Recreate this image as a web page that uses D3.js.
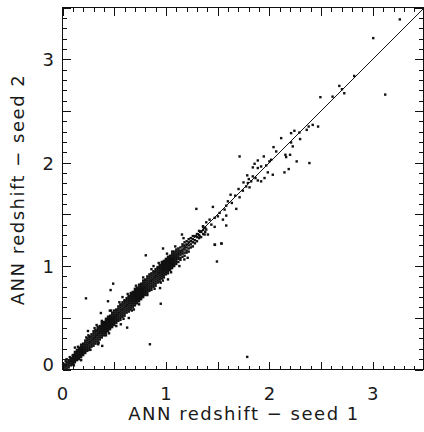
<!DOCTYPE html>
<html>
<head>
<meta charset="utf-8">
<script src="https://cdn.jsdelivr.net/npm/d3@7"></script>
<style>
  body { margin: 0; background: #fff; }
  text { font-family: "DejaVu Sans", sans-serif; fill: #1a1a1a; }
</style>
</head>
<body>
<svg id="chart" width="424" height="432"></svg>
<script>
// tick labels
var xTickLabels = [0, 1, 2, 3];
var yTickLabels = [0, 1, 2, 3];
var xTitle = 'ANN redshift \u2212 seed 1';
var yTitle = 'ANN redshift \u2212 seed 2';

// dense core: each row is [seed 1, then the seed 2 values read in that column]
var bandRows = [
  [0.02, 0.00,0.02,0.04,0.05],
  [0.04, 0.01,0.03,0.05,0.07],
  [0.06, 0.02,0.04,0.06,0.08,0.09],
  [0.08, 0.04,0.06,0.08,0.10,0.11],
  [0.10, 0.05,0.07,0.09,0.11,0.13,0.14],
  [0.12, 0.07,0.09,0.11,0.13,0.15,0.17],
  [0.14, 0.09,0.11,0.13,0.15,0.17,0.19],
  [0.16, 0.10,0.12,0.14,0.16,0.18,0.20,0.21],
  [0.18, 0.12,0.14,0.16,0.18,0.20,0.22,0.24],
  [0.20, 0.14,0.16,0.18,0.20,0.22,0.24,0.25],
  [0.22, 0.16,0.18,0.20,0.22,0.24,0.26,0.28],
  [0.24, 0.18,0.20,0.22,0.24,0.26,0.28,0.30],
  [0.26, 0.19,0.21,0.23,0.25,0.27,0.29,0.31,0.32],
  [0.28, 0.22,0.24,0.26,0.28,0.30,0.32,0.34],
  [0.30, 0.23,0.25,0.27,0.29,0.31,0.33,0.35,0.37],
  [0.32, 0.25,0.27,0.29,0.31,0.33,0.35,0.37,0.38],
  [0.34, 0.27,0.29,0.31,0.33,0.35,0.37,0.39,0.41],
  [0.36, 0.29,0.31,0.33,0.35,0.37,0.39,0.41,0.42],
  [0.38, 0.31,0.33,0.35,0.37,0.39,0.41,0.43,0.45],
  [0.40, 0.33,0.35,0.37,0.39,0.41,0.43,0.45,0.46],
  [0.42, 0.35,0.37,0.39,0.41,0.43,0.45,0.47,0.49],
  [0.44, 0.37,0.39,0.41,0.43,0.45,0.47,0.49,0.51],
  [0.46, 0.39,0.41,0.43,0.45,0.47,0.49,0.51,0.52],
  [0.48, 0.41,0.43,0.45,0.47,0.49,0.51,0.53,0.55],
  [0.50, 0.43,0.45,0.47,0.49,0.51,0.53,0.55,0.57],
  [0.52, 0.45,0.47,0.49,0.51,0.53,0.55,0.57,0.58],
  [0.54, 0.47,0.49,0.51,0.53,0.55,0.57,0.59,0.61],
  [0.56, 0.48,0.50,0.52,0.54,0.56,0.58,0.60,0.62,0.63],
  [0.58, 0.51,0.53,0.55,0.57,0.59,0.61,0.63,0.65],
  [0.60, 0.52,0.54,0.56,0.58,0.60,0.62,0.64,0.66,0.67],
  [0.62, 0.55,0.57,0.59,0.61,0.63,0.65,0.67,0.69],
  [0.64, 0.56,0.58,0.60,0.62,0.64,0.66,0.68,0.70,0.71],
  [0.66, 0.58,0.60,0.62,0.64,0.66,0.68,0.70,0.72,0.74],
  [0.68, 0.60,0.62,0.64,0.66,0.68,0.70,0.72,0.74,0.75],
  [0.70, 0.62,0.64,0.66,0.68,0.70,0.72,0.74,0.76,0.78],
  [0.72, 0.64,0.66,0.68,0.70,0.72,0.74,0.76,0.78,0.79],
  [0.74, 0.66,0.68,0.70,0.72,0.74,0.76,0.78,0.80,0.82],
  [0.76, 0.68,0.70,0.72,0.74,0.76,0.78,0.80,0.82,0.83],
  [0.78, 0.70,0.72,0.74,0.76,0.78,0.80,0.82,0.84,0.86],
  [0.80, 0.72,0.74,0.76,0.78,0.80,0.82,0.84,0.86,0.87],
  [0.82, 0.74,0.76,0.78,0.80,0.82,0.84,0.86,0.88,0.90],
  [0.84, 0.76,0.78,0.80,0.82,0.84,0.86,0.88,0.90,0.92],
  [0.86, 0.77,0.79,0.81,0.83,0.85,0.87,0.89,0.91,0.93],
  [0.88, 0.80,0.82,0.84,0.86,0.88,0.90,0.92,0.94,0.95],
  [0.90, 0.81,0.83,0.85,0.87,0.89,0.91,0.93,0.95,0.97],
  [0.92, 0.84,0.86,0.88,0.90,0.92,0.94,0.96,0.98,0.99],
  [0.94, 0.85,0.87,0.89,0.91,0.93,0.95,0.97,0.99,1.01],
  [0.96, 0.88,0.90,0.92,0.94,0.96,0.98,1.00,1.02,1.04],
  [0.98, 0.89,0.91,0.93,0.95,0.97,0.99,1.01,1.03,1.05],
  [1.00, 0.92,0.94,0.96,0.98,1.00,1.02,1.04,1.06,1.07],
  [1.02, 0.93,0.95,0.97,0.99,1.01,1.03,1.05,1.07,1.09],
  [1.04, 0.96,0.98,1.00,1.02,1.04,1.06,1.08,1.10],
  [1.06, 0.98,1.00,1.02,1.04,1.06,1.08,1.10,1.12,1.14],
  [1.08, 1.00,1.02,1.04,1.06,1.08,1.10,1.12,1.14],
  [1.10, 1.02,1.04,1.06,1.08,1.10,1.12,1.14,1.16],
  [1.12, 1.04,1.07,1.09,1.11,1.13,1.15,1.17],
  [1.14, 1.06,1.08,1.11,1.13,1.15,1.18],
  [1.16, 1.09,1.12,1.14,1.16,1.19,1.21],
  [1.18, 1.10,1.13,1.16,1.18,1.20,1.23],
  [1.20, 1.13,1.15,1.18,1.21,1.24],
  [1.22, 1.14,1.17,1.20,1.23,1.26],
  [1.24, 1.18,1.21,1.24,1.27],
  [1.26, 1.19,1.23,1.26,1.29],
  [1.28, 1.22,1.25,1.29],
  [1.30, 1.24,1.28,1.31],
  [1.32, 1.27,1.30,1.34],
  [1.34, 1.28,1.33],
  [1.36, 1.31,1.35,1.38],
  [1.38, 1.33,1.37]
];

// ragged edge of the core, [seed 1, seed 2]
var edgePairs = [
  [0.15,0.22],[0.18,0.09],[0.23,0.31],[0.27,0.19],[0.31,0.40],[0.35,0.26],[0.38,0.47],[0.42,0.33],
  [0.47,0.57],[0.52,0.42],[0.55,0.65],[0.59,0.49],[0.63,0.73],[0.67,0.57],[0.71,0.81],[0.74,0.63],
  [0.78,0.89],[0.82,0.72],[0.86,0.97],[0.89,0.78],[0.93,1.03],[0.97,0.86],[1.01,1.12],[1.05,0.94],
  [1.09,1.19],[1.13,1.00],[1.17,1.27],[1.21,1.08],[0.58,0.70],[0.33,0.43],[0.69,0.58],[0.25,0.33],
  [0.45,0.35],[0.88,1.00],[0.95,0.84],[0.07,0.12],[0.11,0.04],[0.03,0.08]
];

// thinner tail between 1.3 and 2.5
var tailPairs = [
  [1.326,1.288],[1.342,1.337],[1.358,1.385],[1.374,1.305],[1.39,1.353],[1.406,1.305],[1.39,1.423],
  [1.422,1.449],[1.439,1.401],[1.454,1.572],[1.471,1.379],[1.471,1.466],[1.471,1.208],[1.502,1.481],
  [1.519,1.514],[1.535,1.218],[1.551,1.449],[1.567,1.546],[1.583,1.584],[1.583,1.488],[1.583,1.392],
  [1.599,1.626],[1.625,1.69],[1.637,1.61],[1.67,1.681],[1.68,1.553],[1.702,1.745],[1.712,1.665],
  [1.744,1.729],[1.75,1.809],[1.776,1.77],[1.786,1.877],[1.792,1.803],[1.801,1.841],[1.808,1.761],
  [1.824,1.819],[1.84,1.954],[1.84,1.867],[1.857,1.989],[1.866,1.851],[1.888,2.021],[1.888,1.948],
  [1.888,1.828],[1.92,1.963],[1.92,1.819],[1.953,1.851],[1.969,1.973],[1.985,1.906],[2.0,2.012],
  [2.017,2.028],[2.033,1.883],[2.04,2.15],[2.066,2.108],[2.146,1.906],[2.155,2.076],[2.162,2.054],
  [2.187,1.938],[2.2,2.076],[2.264,2.012],[2.387,1.996],[1.712,2.06],[1.946,2.06],
  [2.114,2.237],[2.21,2.195],[2.226,2.157],[2.21,2.285],[2.242,2.308],[2.29,2.291],[2.297,2.228],
  [2.361,2.317],[2.38,2.349],[2.419,2.365],[2.471,2.349]
];

// sparse high-redshift objects
var highPairs = [
  [2.493,2.633],[2.611,2.638],[2.676,2.742],[2.702,2.71],[2.724,2.671],[2.82,2.838],
  [3.12,2.658],[3.004,3.204],[3.261,3.385]
];

// scattered points off the relation
var outlierPairs = [
  [0.04,0.10],[0.104,0.05],[0.12,0.212],[0.227,0.688],[0.246,0.372],[0.345,0.244],[0.384,0.228],
  [0.371,0.546],[0.44,0.66],[0.458,0.569],[0.465,0.768],[0.49,0.83],[0.564,0.437],[0.625,0.405],
  [0.641,0.498],[0.805,1.104],[0.845,0.244],[0.95,0.636],[0.943,0.787],[0.972,1.17],[1.02,0.871],
  [1.155,1.305],[1.178,1.064],[1.294,1.553],[1.474,1.205],[1.538,1.218],[1.493,1.044],[1.786,0.122]
];

var svg = d3.select('#chart');
var x = d3.scaleLinear().domain([0, 3.49]).range([62.5, 423.5]);
var y = d3.scaleLinear().domain([0, 3.5]).range([369.5, 7.5]);

var x0 = x.range()[0], x1 = x.range()[1];
var y0 = y.range()[0], y1 = y.range()[1];

svg.append('clipPath').attr('id', 'plotclip')
    .append('rect')
    .attr('x', x0).attr('y', y1)
    .attr('width', x1 - x0).attr('height', y0 - y1);

var plot = svg.append('g').attr('clip-path', 'url(#plotclip)');

// one-to-one line
plot.append('line')
    .attr('x1', x(0)).attr('y1', y(0))
    .attr('x2', x(3.5)).attr('y2', y(3.5))
    .attr('stroke', '#111')
    .attr('stroke-width', 1);

var bandPairs = [];
bandRows.forEach(function (row) {
    row.slice(1).forEach(function (v) { bandPairs.push([row[0], v]); });
});

// dots are a touch over 2px so the packed core closes up
var dot = 2.4;
var allPairs = bandPairs.concat(edgePairs, tailPairs, highPairs, outlierPairs);
plot.selectAll('rect.pt')
    .data(allPairs)
    .enter().append('rect')
    .attr('class', 'pt')
    .attr('x', function (d) { return x(d[0]) - dot / 2; })
    .attr('y', function (d) { return y(d[1]) - dot / 2; })
    .attr('width', dot)
    .attr('height', dot)
    .attr('fill', '#111');

// frame with ticks on all four sides (minor every 0.1, major every 0.5)
var majorLen = 8, minorLen = 4;
var xTicks = d3.range(0, 35).map(function (i) { return i / 10; });
var yTicks = d3.range(0, 36).map(function (i) { return i / 10; });
var isMajor = function (v) { return Math.abs(v * 2 - Math.round(v * 2)) < 1e-6; };

var axes = svg.append('g')
    .attr('stroke', '#111')
    .attr('stroke-width', 1)
    .attr('shape-rendering', 'crispEdges');

axes.append('rect')
    .attr('x', x0).attr('y', y1)
    .attr('width', x1 - x0 - 0.5).attr('height', y0 - y1)
    .attr('fill', 'none');

xTicks.forEach(function (v) {
    var len = isMajor(v) ? majorLen : minorLen;
    var px = Math.round(x(v)) + 0.5;
    axes.append('line').attr('x1', px).attr('x2', px).attr('y1', y0).attr('y2', y0 - len);
    axes.append('line').attr('x1', px).attr('x2', px).attr('y1', y1).attr('y2', y1 + len);
});

yTicks.forEach(function (v) {
    var len = isMajor(v) ? majorLen : minorLen;
    var py = Math.round(y(v)) + 0.5;
    axes.append('line').attr('x1', x0).attr('x2', x0 + len).attr('y1', py).attr('y2', py);
    axes.append('line').attr('x1', x1 - 0.5).attr('x2', x1 - 0.5 - len).attr('y1', py).attr('y2', py);
});

// tick labels
svg.selectAll('text.xl')
    .data(xTickLabels)
    .enter().append('text')
    .attr('class', 'xl')
    .attr('x', function (d) { return x(d); })
    .attr('y', 400)
    .attr('text-anchor', 'middle')
    .style('font-size', '18px')
    .text(function (d) { return d; });

svg.selectAll('text.yl')
    .data(yTickLabels)
    .enter().append('text')
    .attr('class', 'yl')
    .attr('x', 54)
    .attr('y', function (d) { return Math.min(y(d), 364) + 7; })
    .attr('text-anchor', 'end')
    .style('font-size', '18px')
    .text(function (d) { return d; });

// axis titles (the original vector font runs wide, hence the spacing)
svg.append('text')
    .attr('x', (x0 + x1) / 2 + 1)
    .attr('y', 420)
    .attr('text-anchor', 'middle')
    .style('font-size', '18px')
    .style('letter-spacing', '1.5px')
    .text(xTitle);

svg.append('text')
    .attr('transform', 'translate(24,' + ((y0 + y1) / 2 + 1) + ') rotate(-90)')
    .attr('text-anchor', 'middle')
    .style('font-size', '18px')
    .style('letter-spacing', '1.5px')
    .text(yTitle);
</script>
</body>
</html>
